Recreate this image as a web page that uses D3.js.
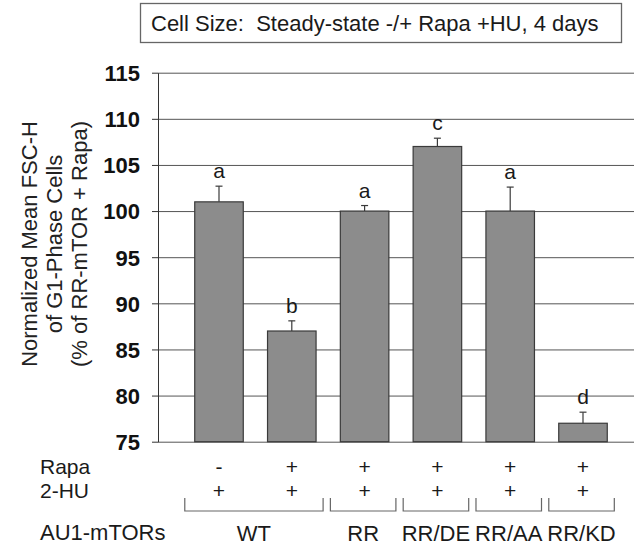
<!DOCTYPE html>
<html>
<head>
<meta charset="utf-8">
<script src="https://cdn.jsdelivr.net/npm/d3@7"></script>
<style>
  html, body { margin: 0; padding: 0; background: #fff; }
  svg { display: block; font-family: "Liberation Sans", Arial, sans-serif; }
</style>
</head>
<body>
<svg id="chart" width="634" height="550"></svg>
<script>
// ---------- data ----------
const categories = ["WT -Rapa", "WT +Rapa", "RR", "RR/DE", "RR/AA", "RR/KD"];
const means      = [101.0, 87.0, 100.0, 107.0, 100.0, 77.0];
const errors     = [1.7, 1.1, 0.6, 0.9, 2.6, 1.2];
const letters    = ["a", "b", "a", "c", "a", "d"];
const rapaSigns  = ["-", "+", "+", "+", "+", "+"];
const huSigns    = ["+", "+", "+", "+", "+", "+"];
const groupOf    = ["WT", "WT", "RR", "RR/DE", "RR/AA", "RR/KD"];
const yTicks     = [75, 80, 85, 90, 95, 100, 105, 110, 115];
const titleText  = "Cell Size:  Steady-state -/+ Rapa +HU, 4 days";
const yTitle     = ["Normalized Mean FSC-H", "of G1-Phase Cells", "(% of RR-mTOR + Rapa)"];
const rowLabels  = ["Rapa", "2-HU"];
const groupTitle = "AU1-mTORs";

// ---------- layout ----------
const svg = d3.select("#chart");
const axisX = 158, plotRight = 634;
const y = d3.scaleLinear().domain([75, 115]).range([441.7, 72.7]);
const x = d3.scaleBand().domain(categories).range([182.6, 619.4])
  .paddingInner(1 / 3).paddingOuter(1 / 6);
const cx = c => x(c) + x.bandwidth() / 2;
const textCol = "#1a1a1a";
const lineCol = "#555";

// title box
const tb = svg.append("g");
tb.append("rect").attr("x", 140.5).attr("y", 3.5).attr("width", 481).attr("height", 39)
  .attr("fill", "#fff").attr("stroke", "#666").attr("stroke-width", 1.3);
tb.append("text").attr("x", 151).attr("y", 31).attr("font-size", 22)
  .attr("fill", textCol).attr("xml:space", "preserve").style("white-space", "pre").text(titleText);

// gridlines
const grid = svg.append("g").attr("transform", `translate(${axisX},0)`)
  .call(d3.axisLeft(y).tickValues(yTicks).tickSize(-(plotRight - axisX)).tickFormat(""));
grid.select(".domain").remove();
grid.selectAll("line").attr("stroke", lineCol).attr("stroke-width", 1);

// y axis
const yAxis = svg.append("g").attr("transform", `translate(${axisX},0)`)
  .call(d3.axisLeft(y).tickValues(yTicks).tickSize(6).tickSizeOuter(0).tickPadding(12));
yAxis.select(".domain").attr("stroke", "#333");
yAxis.selectAll(".tick line").attr("stroke", "#333");
yAxis.selectAll(".tick text").attr("font-size", 22).attr("font-weight", "bold")
  .attr("fill", "#111").attr("font-family", "Liberation Sans, Arial, sans-serif").attr("dy", "0.36em");

// y title
const yt = svg.append("g").attr("transform", "translate(0,244) rotate(-90)");
yt.selectAll("text").data(yTitle).join("text")
  .attr("x", 0).attr("y", (d, i) => 37 + i * 25)
  .attr("text-anchor", "middle").attr("font-size", 22).attr("fill", "#222").text(d => d);

// bars
svg.append("g").selectAll("rect").data(categories).join("rect")
  .attr("x", d => x(d)).attr("width", x.bandwidth())
  .attr("y", (d, i) => y(means[i])).attr("height", (d, i) => y(75) - y(means[i]))
  .attr("fill", "#8c8c8c").attr("stroke", "#3a3a3a").attr("stroke-width", 1.2);

// error bars
const eb = svg.append("g").attr("stroke", "#3a3a3a").attr("stroke-width", 1.2);
categories.forEach((c, i) => {
  const top = y(means[i] + errors[i]);
  eb.append("line").attr("x1", cx(c)).attr("x2", cx(c)).attr("y1", y(means[i])).attr("y2", top);
  eb.append("line").attr("x1", cx(c) - 3.5).attr("x2", cx(c) + 3.5).attr("y1", top).attr("y2", top);
});

// significance letters
svg.append("g").selectAll("text").data(categories).join("text")
  .attr("x", d => cx(d)).attr("y", (d, i) => y(means[i] + errors[i]) - 8)
  .attr("text-anchor", "middle").attr("font-size", 21).attr("fill", textCol)
  .text((d, i) => letters[i]);

// treatment rows
const rowY = [474, 498];
[rapaSigns, huSigns].forEach((signs, r) => {
  svg.append("text").attr("x", 40).attr("y", rowY[r]).attr("font-size", 21)
    .attr("fill", textCol).text(rowLabels[r]);
  svg.append("g").selectAll("text").data(categories).join("text")
    .attr("x", d => cx(d)).attr("y", rowY[r]).attr("text-anchor", "middle")
    .attr("font-size", 21).attr("fill", textCol).text((d, i) => signs[i]);
});

// group brackets
const groups = d3.groups(categories.map((c, i) => ({ c, g: groupOf[i] })), d => d.g);
const step = x.step();
const br = svg.append("g").attr("fill", "none").attr("stroke", "#666").attr("stroke-width", 1.2);
groups.forEach(([label, items]) => {
  const left = cx(items[0].c) - 0.47 * step;
  const right = cx(items[items.length - 1].c) + 0.43 * step;
  br.append("path").attr("d", `M${left},498 V511 H${right} V498`);
  svg.append("text").attr("x", (left + right) / 2).attr("y", 541).attr("text-anchor", "middle")
    .attr("font-size", 22).attr("fill", textCol).text(label);
});
svg.append("text").attr("x", 40).attr("y", 540).attr("font-size", 22)
  .attr("fill", textCol).text(groupTitle);
</script>
</body>
</html>
